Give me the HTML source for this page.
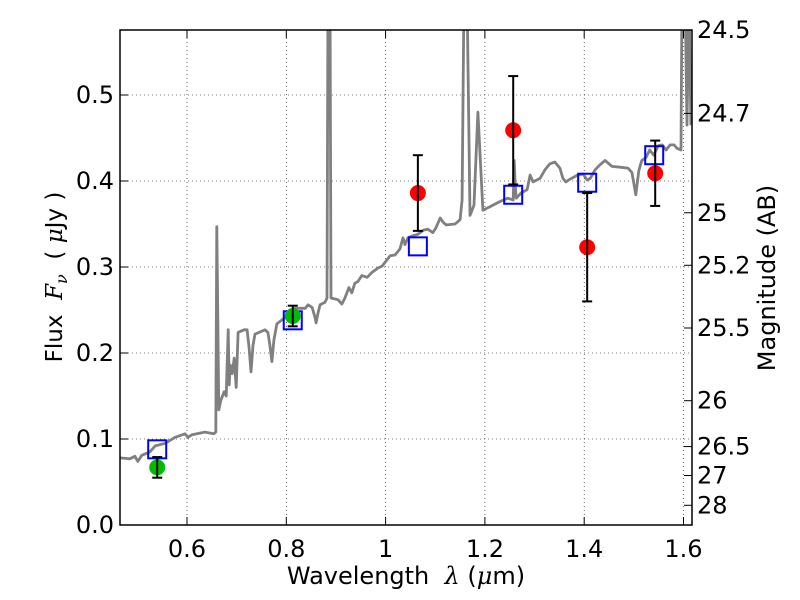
<!DOCTYPE html>
<html><head><meta charset="utf-8"><style>
body{margin:0;background:#fff}
svg{display:block;font-family:"DejaVu Sans","Liberation Sans",sans-serif}
</style></head><body>
<svg id="chart" width="800" height="600" xmlns="http://www.w3.org/2000/svg">
<defs><clipPath id="clip"><rect x="120" y="30" width="572" height="495"/></clipPath></defs>
<rect width="800" height="600" fill="#fff"/>
<g id="grid"></g>
<g id="spec" clip-path="url(#clip)"></g>
<g id="marks" clip-path="url(#clip)"></g>
<rect x="120" y="30" width="572" height="495" fill="none" stroke="#000" stroke-width="1.5"/>
<g id="axes"></g>
<text x="406" y="584" font-size="24" text-anchor="middle">Wavelength&#160;&#160;<tspan font-family="DejaVu Serif" font-style="italic">λ</tspan>&#160;(<tspan font-family="DejaVu Serif" font-style="italic">μ</tspan>m)</text>
<text transform="translate(62,277) rotate(-90)" font-size="23" text-anchor="middle">Flux&#160;&#160;<tspan font-family="DejaVu Serif" font-style="italic">F</tspan><tspan font-family="DejaVu Serif" font-style="italic" font-size="16" dy="5">ν</tspan><tspan dy="-5">&#160;&#160;(&#160;</tspan><tspan font-family="DejaVu Serif" font-style="italic">μ</tspan>Jy&#160;)</text>
<text transform="translate(775,278) rotate(-90)" font-size="24" text-anchor="middle">Magnitude (AB)</text>
</svg>
<script>
const specLam=[0.465,0.485,0.495,0.501,0.509,0.525,0.536,0.556,0.576,0.596,0.602,0.610,0.636,0.654,0.658,0.660,0.664,0.668,0.675,0.679,0.683,0.685,0.687,0.691,0.695,0.699,0.703,0.715,0.721,0.725,0.729,0.733,0.737,0.757,0.763,0.767,0.771,0.775,0.781,0.797,0.807,0.818,0.838,0.844,0.852,0.858,0.860,0.864,0.868,0.878,0.882,0.884,0.888,0.890,0.904,0.912,0.918,0.926,0.932,0.938,0.944,0.952,0.963,0.973,0.985,0.993,1.001,1.009,1.019,1.029,1.035,1.039,1.045,1.053,1.065,1.077,1.085,1.095,1.101,1.110,1.116,1.122,1.140,1.150,1.154,1.158,1.164,1.170,1.178,1.186,1.196,1.210,1.230,1.246,1.257,1.259,1.261,1.263,1.273,1.285,1.291,1.297,1.311,1.321,1.331,1.341,1.351,1.357,1.363,1.371,1.387,1.398,1.406,1.412,1.422,1.432,1.442,1.456,1.472,1.488,1.496,1.504,1.510,1.516,1.524,1.532,1.540,1.549,1.557,1.565,1.573,1.581,1.587,1.595,1.597,1.603,1.607,1.611,1.615];
const specFlux=[0.078,0.077,0.080,0.074,0.081,0.085,0.092,0.095,0.102,0.106,0.102,0.105,0.108,0.106,0.108,0.347,0.134,0.145,0.155,0.150,0.227,0.163,0.186,0.176,0.194,0.160,0.224,0.227,0.227,0.206,0.178,0.209,0.222,0.227,0.224,0.209,0.190,0.215,0.234,0.241,0.248,0.252,0.252,0.256,0.253,0.241,0.235,0.247,0.256,0.259,0.264,0.62,0.62,0.264,0.262,0.257,0.264,0.276,0.270,0.281,0.283,0.290,0.288,0.294,0.299,0.301,0.307,0.313,0.314,0.321,0.334,0.326,0.334,0.336,0.338,0.343,0.344,0.340,0.345,0.357,0.352,0.349,0.350,0.355,0.378,0.62,0.62,0.360,0.372,0.480,0.366,0.370,0.376,0.380,0.378,0.424,0.395,0.380,0.386,0.390,0.407,0.399,0.403,0.413,0.420,0.422,0.415,0.403,0.399,0.402,0.407,0.408,0.401,0.403,0.413,0.419,0.424,0.417,0.416,0.415,0.410,0.384,0.412,0.424,0.427,0.436,0.430,0.441,0.442,0.436,0.442,0.442,0.438,0.436,0.62,0.62,0.465,0.62,0.465];
const greenLam=[0.540,0.813];
const greenFlux=[0.067,0.243];
const greenErr=[0.012,0.012];
const redLam=[1.065,1.257,1.406,1.543];
const redFlux=[0.386,0.459,0.323,0.409];
const redErr=[0.044,0.063,0.063,0.038];
const modelLam=[0.540,0.813,1.065,1.257,1.406,1.541];
const modelFlux=[0.088,0.238,0.324,0.384,0.398,0.430];
const xTicks=[0.6,0.8,1.0,1.2,1.4,1.6];
const xTickLabels=["0.6","0.8","1","1.2","1.4","1.6"];
const yTicks=[0,0.1,0.2,0.3,0.4,0.5];
const yTickLabels=["0.0","0.1","0.2","0.3","0.4","0.5"];
const magTicks=[24.5,24.7,25,25.2,25.5,26,26.5,27,28];
const magTickLabels=["24.5","24.7","25","25.2","25.5","26","26.5","27","28"];

const X=l=>187+(l-0.6)*496.5;
const Y=f=>525-f*860;
const NS="http://www.w3.org/2000/svg";
function mk(tag,attrs,parent){const e=document.createElementNS(NS,tag);for(const k in attrs)e.setAttribute(k,attrs[k]);parent.appendChild(e);return e;}
const grid=document.getElementById('grid'),axes=document.getElementById('axes'),spec=document.getElementById('spec'),marks=document.getElementById('marks');

xTicks.forEach((t,i)=>{
  const x=X(t);
  const g=mk('line',{x1:x,x2:x,y1:30,y2:525,stroke:'#000','stroke-width':0.6,'stroke-dasharray':'1,3'},grid);
  
  
  mk('line',{x1:x,x2:x,y1:525,y2:517,stroke:'#000','stroke-width':1},axes);
  mk('line',{x1:x,x2:x,y1:30,y2:38,stroke:'#000','stroke-width':1},axes);
  const tx=mk('text',{x:x,y:557,'font-size':24,'text-anchor':'middle'},axes);
  tx.textContent=xTickLabels[i];
  
  
});
yTicks.forEach((t,i)=>{
  const y=Y(t);
  const g=mk('line',{x1:120,x2:692,y1:y,y2:y,stroke:'#000','stroke-width':0.6,'stroke-dasharray':'1,3'},grid);
  
  
  mk('line',{x1:120,x2:128,y1:y,y2:y,stroke:'#000','stroke-width':1},axes);
  const tx=mk('text',{x:114,y:y+8,'font-size':24,'text-anchor':'end'},axes);
  tx.textContent=yTickLabels[i];
  
  
});
magTicks.forEach((m,i)=>{
  const y=Y(Math.pow(10,(23.9-m)/2.5));
  mk('line',{x1:684,x2:692,y1:y,y2:y,stroke:'#000','stroke-width':1},axes);
  const tx=mk('text',{x:697,y:y+8,'font-size':24},axes);
  tx.textContent=magTickLabels[i];
  
  
});

const pl=mk('polyline',{points:specLam.map((l,i)=>X(l).toFixed(1)+','+Y(specFlux[i]).toFixed(1)).join(' '),fill:'none',stroke:'#808080','stroke-width':2.8,'stroke-linejoin':'round'},spec);



modelLam.forEach((l,i)=>{
  const r=mk('rect',{x:X(l)-9,y:Y(modelFlux[i])-9,width:18,height:18,fill:'none',stroke:'#0000ff','stroke-width':2},marks);
  
  
});
function pts(lams,fl,er,color,name){
  lams.forEach((l,i)=>{
    const x=X(l),y=Y(fl[i]);
    const c=mk('circle',{cx:x,cy:y,r:8,fill:color},marks);
    
    
    const y1=Y(fl[i]+er[i]),y2=Y(fl[i]-er[i]);
    const e=mk('g',{stroke:'#000','stroke-width':2},marks);
    
    
    mk('line',{x1:x,x2:x,y1:y1,y2:y2},e);
    mk('line',{x1:x-5,x2:x+5,y1:y1,y2:y1},e);
    mk('line',{x1:x-5,x2:x+5,y1:y2,y2:y2},e);
  });
}
pts(greenLam,greenFlux,greenErr,'#00bb00','green-measurement');
pts(redLam,redFlux,redErr,'#ff0000','red-measurement');
</script>
</body></html>
